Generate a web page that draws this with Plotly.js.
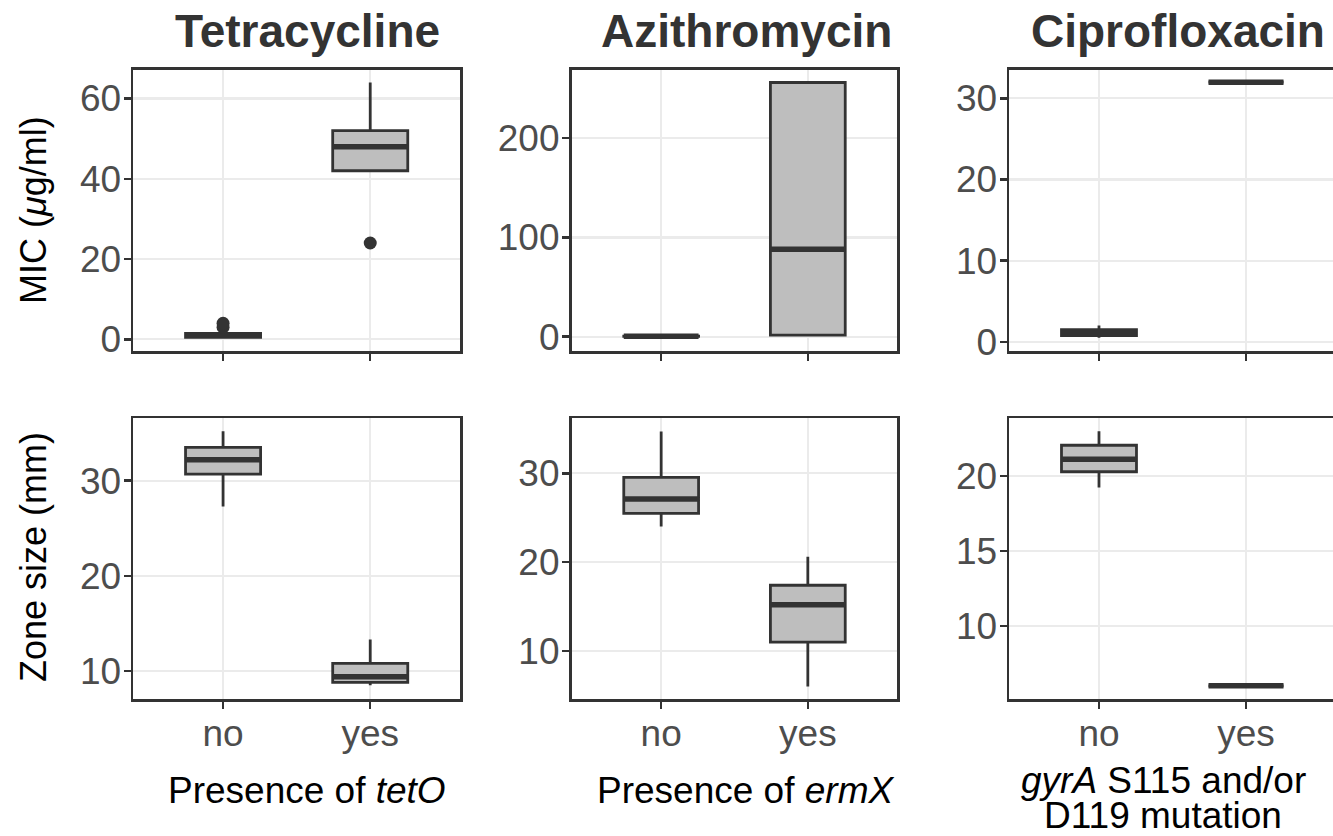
<!DOCTYPE html>
<html><head><meta charset="utf-8">
<script src="https://cdn.plot.ly/plotly-3.0.1.min.js"></script>
<style>html,body{margin:0;padding:0;overflow:hidden;background:#fff}#chart{width:1340px;height:836px}</style>
</head><body><div id="chart"></div>
<script>
// ---- data ----
const groups = ['no', 'yes'];
const panelTitles = ['Tetracycline', 'Azithromycin', 'Ciprofloxacin'];
const yTitles = ['MIC (<i>\u03bc</i>g/ml)', 'Zone size (mm)'];
const xTitleLines = [
  ['Presence of <i>tetO</i>'],
  ['Presence of <i>ermX</i>'],
  ['<i>gyrA</i> S115 and/or', 'D119 mutation']
];

// box statistics per panel: [no, yes]
const tetMic   = {lower: [0.5, 42],  q1: [0.5, 42],   median: [1, 48],     q3: [1.5, 52],    upper: [2, 64],     outGroup: ['no', 'no', 'yes'], outValue: [3, 4, 24]};
const aziMic   = {lower: [0.25, 1.5], q1: [0.25, 1.5], median: [0.5, 88],  q3: [0.5, 256],   upper: [1, 256],    outGroup: [], outValue: []};
const ciproMic = {lower: [0.5, 32],  q1: [0.75, 32],  median: [1, 32],     q3: [1.5, 32],    upper: [2, 32],     outGroup: [], outValue: []};
const tetZone  = {lower: [27.3, 8.5], q1: [30.7, 8.8], median: [32.2, 9.4], q3: [33.5, 10.8], upper: [35.2, 13.3], outGroup: [], outValue: []};
const aziZone  = {lower: [24.0, 6.0], q1: [25.5, 11.0], median: [27.1, 15.2], q3: [29.55, 17.4], upper: [34.7, 20.6], outGroup: [], outValue: []};
const ciproZone= {lower: [19.24, 6], q1: [20.3, 6],   median: [21.13, 6], q3: [22.07, 6],   upper: [23.0, 6],   outGroup: [], outValue: []};

const panels = [tetMic, aziMic, ciproMic, tetZone, aziZone, ciproZone];

// ---- layout geometry (styling) ----
const W = 1340, H = 836;
const colPx = [[133.3, 460], [571.7, 897.3], [1009.3, 1335.7]];
const rowPx = [[70, 350.7], [418.3, 699]];
const yRanges = [[-2.84, 67.1], [-14.1, 268.6], [-1.1, 33.5], [7.06, 36.56], [4.6, 36.19], [5.12, 23.87]];
const yDticks = [20, 100, 10, 10, 10, 5];
const FONT = 'Liberation Sans, Arial, Helvetica, sans-serif';
const DARK = '#333333';
const BOXW = 0.51;

const data = [];
const layout = {
  width: W, height: H, margin: {l: 0, r: 0, t: 0, b: 0},
  paper_bgcolor: '#ffffff', plot_bgcolor: '#ffffff',
  showlegend: false, font: {family: FONT},
  annotations: []
};

panels.forEach((p, k) => {
  const idx = k + 1;
  const row = Math.floor(k / 3), col = k % 3;
  const xa = 'x' + idx, ya = 'y' + idx;
  const pos = groups.map((g, i) => i);
  data.push({
    type: 'box', x: pos, q1: p.q1, median: p.median, q3: p.q3,
    lowerfence: p.lower, upperfence: p.upper,
    width: BOXW, whiskerwidth: 0, boxpoints: false,
    fillcolor: '#bebebe', line: {color: DARK, width: 2.8},
    xaxis: xa, yaxis: ya, hoverinfo: 'skip'
  });
  // thick median bar
  const mx = [], my = [];
  pos.forEach((x, i) => { mx.push(x - BOXW / 2, x + BOXW / 2, null); my.push(p.median[i], p.median[i], null); });
  data.push({type: 'scatter', mode: 'lines', x: mx, y: my, line: {color: DARK, width: 5.5},
    xaxis: xa, yaxis: ya, hoverinfo: 'skip'});
  if (p.outValue.length) {
    data.push({type: 'scatter', mode: 'markers', x: p.outGroup.map(g => groups.indexOf(g)), y: p.outValue,
      marker: {color: DARK, size: 13}, xaxis: xa, yaxis: ya, hoverinfo: 'skip'});
  }
  const common = {
    ticks: 'outside', ticklen: 7, tickwidth: 2.5, tickcolor: DARK,
    showline: true, linecolor: DARK, linewidth: 2.8, mirror: true,
    showgrid: true, gridcolor: '#ebebeb', gridwidth: 2.2, zeroline: false,
    tickfont: {family: FONT, size: 37, color: '#4d4d4d'}, fixedrange: true
  };
  layout['xaxis' + idx] = Object.assign({}, common, {
    domain: [colPx[col][0] / W, colPx[col][1] / W], anchor: ya,
    range: [-0.61, 1.61], tickmode: 'array', tickvals: pos, ticktext: groups,
    showticklabels: row === 1, ticklabelstandoff: -7
  });
  layout['yaxis' + idx] = Object.assign({}, common, {
    domain: [1 - rowPx[row][1] / H, 1 - rowPx[row][0] / H], anchor: xa,
    range: yRanges[k], dtick: yDticks[k], tick0: 0, ticklabelstandoff: -5
  });
});

// panel titles
const titleCx = [307.5, 746, 1178];
panelTitles.forEach((t, c) => layout.annotations.push({
  text: '<b>' + t + '</b>', xref: 'paper', yref: 'paper', x: titleCx[c] / W, y: 1 - 31 / H,
  xanchor: 'center', yanchor: 'middle', showarrow: false, font: {family: FONT, size: 46, color: DARK}
}));
// x-axis titles
const xTitleCx = [307, 745, 1163];
xTitleLines.forEach((lines, c) => {
  const ys = lines.length === 1 ? [790] : [780, 815];
  lines.forEach((t, j) => layout.annotations.push({
    text: t, xref: 'paper', yref: 'paper', x: xTitleCx[c] / W, y: 1 - ys[j] / H,
    xanchor: 'center', yanchor: 'middle', showarrow: false, font: {family: FONT, size: 37, color: '#000000'}
  }));
});
// y-axis titles
const yTitleCy = [210, 557];
yTitles.forEach((t, r) => layout.annotations.push({
  text: t, xref: 'paper', yref: 'paper', x: 33 / W, y: 1 - yTitleCy[r] / H, textangle: -90,
  xanchor: 'center', yanchor: 'middle', showarrow: false, font: {family: FONT, size: 36, color: '#000000'}
}));

Plotly.newPlot('chart', data, layout, {staticPlot: true, displayModeBar: false});
</script>
</body></html>
